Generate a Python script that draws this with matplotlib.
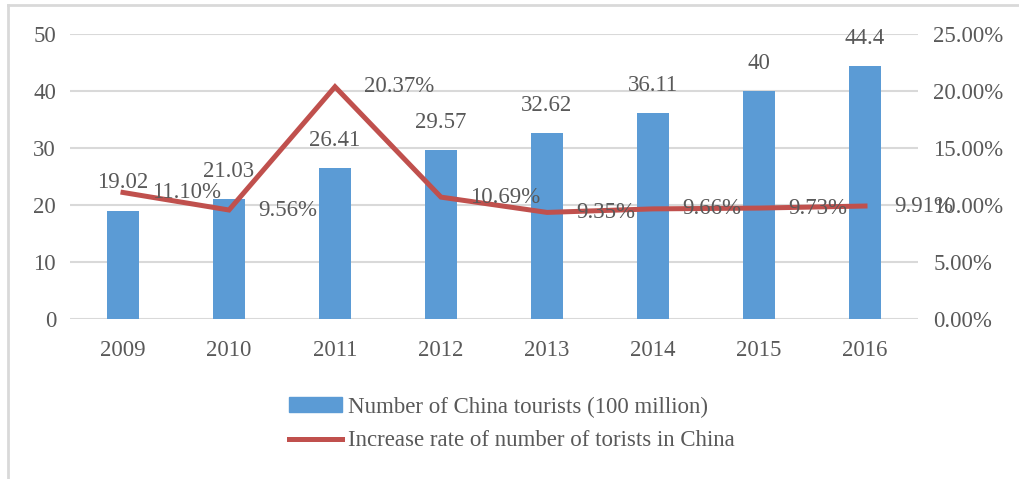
import matplotlib
matplotlib.use("Agg")
import matplotlib.pyplot as plt
from matplotlib.lines import Line2D
from matplotlib.ticker import FuncFormatter

years = ["2009", "2010", "2011", "2012", "2013", "2014", "2015", "2016"]
tourists = [19.02, 21.03, 26.41, 29.57, 32.62, 36.11, 40, 44.4]
rate = [11.10, 9.56, 20.37, 10.69, 9.35, 9.66, 9.73, 9.91]
tourist_labels = ["19.02", "21.03", "26.41", "29.57", "32.62", "36.11", "40", "44.4"]
rate_labels = ["11.10%", "9.56%", "20.37%", "10.69%", "9.35%", "9.66%", "9.73%", "9.91%"]
bar_name = "Number of China tourists (100 million)"
line_name = "Increase rate of number of torists in China"

plt.rcParams['font.family'] = ['Liberation Serif', 'DejaVu Serif']
TXT = '#595959'
BLUE = '#5B9BD5'
RED = '#C0504D'
GRID = '#D9D9D9'
FS = 16.5

W, H = 1020, 479
fig = plt.figure(figsize=(W / 100, H / 100), dpi=100)

# outer frame (top and left visible)
fig.add_artist(Line2D([8 / W, 8 / W], [0, 1 - 5 / H], transform=fig.transFigure, color='#D9D9D9', lw=2))
fig.add_artist(Line2D([8 / W, 1], [1 - 5 / H, 1 - 5 / H], transform=fig.transFigure, color='#D9D9D9', lw=2))

ax = fig.add_axes([70 / W, 1 - 319 / H, (918 - 70) / W, (319 - 34) / H])
x = list(range(len(years)))
ax.bar(x, tourists, width=0.31, color=BLUE, zorder=2, label=bar_name)
ax.set_ylim(0, 50)
ax.set_xlim(-0.5, len(years) - 0.5)
ax.set_yticks([0, 10, 20, 30, 40, 50])
ax.set_xticks(x)
ax.set_xticklabels(years)
ax.yaxis.grid(True, color=GRID, lw=1.5, zorder=0)
ax.set_axisbelow(True)
for s in ax.spines.values():
    s.set_visible(False)
ax.tick_params(axis='both', length=0, labelsize=FS, colors=TXT)
ax.tick_params(axis='x', pad=15)
ax.tick_params(axis='y', pad=10)

for xi, v, lab in zip(x, tourists, tourist_labels):
    ax.annotate(lab, (xi, v), xytext=(0, 20), textcoords='offset points',
                ha='center', va='center', fontsize=FS, color=TXT, zorder=5)

ax2 = ax.twinx()
ax2.plot(x, rate, color=RED, lw=3.6, zorder=3, label=line_name, solid_joinstyle='miter')
ax2.set_ylim(0, 25)
ax2.set_yticks([0, 5, 10, 15, 20, 25])
ax2.yaxis.set_major_formatter(FuncFormatter(lambda v, p: f"{v:.2f}%"))
for s in ax2.spines.values():
    s.set_visible(False)
ax2.tick_params(axis='y', length=0, labelsize=FS, colors=TXT, pad=11)

for xi, v, lab in zip(x, rate, rate_labels):
    ax2.annotate(lab, (xi, v), xytext=(21, 0), textcoords='offset points',
                 ha='left', va='center', fontsize=FS, color=TXT, zorder=5)

handles = [plt.Rectangle((0, 0), 1, 1, color=BLUE), Line2D([0], [0], color=RED, lw=3.6)]
fig.legend(handles, [bar_name, line_name], loc='center', bbox_to_anchor=(512 / W, 1 - 424 / H),
           ncol=1, frameon=False, fontsize=FS, labelcolor=TXT, handlelength=2.3,
           handleheight=0.65, handletextpad=0.3, labelspacing=0.55)

fig.savefig('out.png', dpi=100, facecolor='white')
